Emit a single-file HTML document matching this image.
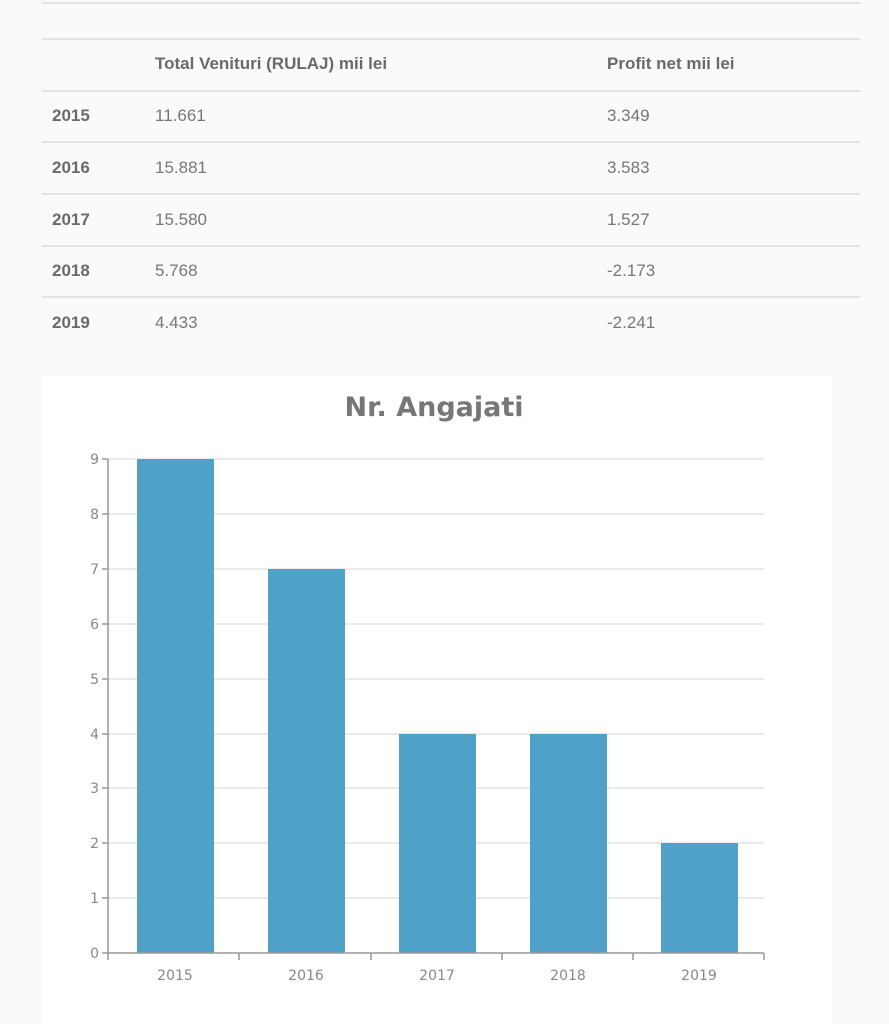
<!DOCTYPE html>
<html><head><style>
body{margin:0;width:889px;height:1024px;background:#fafafa;font-family:"Liberation Sans",sans-serif;position:relative;overflow:hidden}
.l{position:absolute;left:42px;width:818px;height:2px;background:#e3e3e3}
.t{position:absolute;font-size:17px;color:#777}
.b{font-weight:bold;color:#6a6a6a}
</style></head><body>
<div class="l" style="top:2px"></div>
<div class="l" style="top:38px"></div>
<div class="l" style="top:90px"></div>
<div class="l" style="top:141px"></div>
<div class="l" style="top:193px"></div>
<div class="l" style="top:245px"></div>
<div class="l" style="top:296px"></div>
<div class="t b" style="left:155px;top:54px">Total Venituri (RULAJ) mii lei</div>
<div class="t b" style="left:607px;top:54px">Profit net mii lei</div>
<div class="t b" style="left:52px;top:106px">2015</div><div class="t" style="left:155px;top:106px">11.661</div><div class="t" style="left:607px;top:106px">3.349</div>
<div class="t b" style="left:52px;top:158px">2016</div><div class="t" style="left:155px;top:158px">15.881</div><div class="t" style="left:607px;top:158px">3.583</div>
<div class="t b" style="left:52px;top:210px">2017</div><div class="t" style="left:155px;top:210px">15.580</div><div class="t" style="left:607px;top:210px">1.527</div>
<div class="t b" style="left:52px;top:261px">2018</div><div class="t" style="left:155px;top:261px">5.768</div><div class="t" style="left:607px;top:261px">-2.173</div>
<div class="t b" style="left:52px;top:313px">2019</div><div class="t" style="left:155px;top:313px">4.433</div><div class="t" style="left:607px;top:313px">-2.241</div>
<svg style="position:absolute;left:0;top:0" width="889" height="1024">
<rect x="42" y="376" width="791" height="648" fill="#fff"/>
<text x="434" y="416" text-anchor="middle" font-family="DejaVu Sans,sans-serif" font-weight="bold" font-size="27" fill="#777">Nr. Angajati</text>
<g stroke="#e3e3e3" stroke-width="1.5">
<line x1="108" x2="764" y1="459" y2="459"/><line x1="108" x2="764" y1="514" y2="514"/><line x1="108" x2="764" y1="569" y2="569"/><line x1="108" x2="764" y1="624" y2="624"/><line x1="108" x2="764" y1="679" y2="679"/><line x1="108" x2="764" y1="734" y2="734"/><line x1="108" x2="764" y1="788" y2="788"/><line x1="108" x2="764" y1="843" y2="843"/><line x1="108" x2="764" y1="898" y2="898"/>
</g>
<g fill="#4fa1c8">
<rect x="137" y="459" width="77" height="494"/>
<rect x="268" y="569" width="77" height="384"/>
<rect x="399" y="734" width="77" height="219"/>
<rect x="530" y="734" width="77" height="219"/>
<rect x="661" y="843" width="77" height="110"/>
</g>
<g stroke="#999" stroke-width="1.5">
<line x1="108" x2="108" y1="459" y2="953"/><line x1="108" x2="764" y1="953" y2="953"/>
<line x1="102" x2="108" y1="459" y2="459"/><line x1="102" x2="108" y1="514" y2="514"/><line x1="102" x2="108" y1="569" y2="569"/><line x1="102" x2="108" y1="624" y2="624"/><line x1="102" x2="108" y1="679" y2="679"/><line x1="102" x2="108" y1="734" y2="734"/><line x1="102" x2="108" y1="788" y2="788"/><line x1="102" x2="108" y1="843" y2="843"/><line x1="102" x2="108" y1="898" y2="898"/><line x1="102" x2="108" y1="953" y2="953"/>
<line x1="108" x2="108" y1="953" y2="960"/><line x1="239" x2="239" y1="953" y2="960"/><line x1="371" x2="371" y1="953" y2="960"/><line x1="502" x2="502" y1="953" y2="960"/><line x1="633" x2="633" y1="953" y2="960"/><line x1="764" x2="764" y1="953" y2="960"/>
</g>
<g font-family="DejaVu Sans,sans-serif" font-size="14" fill="#888" text-anchor="end">
<text x="99" y="464">9</text><text x="99" y="519">8</text><text x="99" y="574">7</text><text x="99" y="629">6</text><text x="99" y="684">5</text><text x="99" y="739">4</text><text x="99" y="793">3</text><text x="99" y="848">2</text><text x="99" y="903">1</text><text x="99" y="958">0</text>
</g>
<g font-family="DejaVu Sans,sans-serif" font-size="14" fill="#888" text-anchor="middle">
<text x="175" y="980">2015</text><text x="306" y="980">2016</text><text x="437" y="980">2017</text><text x="568" y="980">2018</text><text x="699" y="980">2019</text>
</g>
</svg>
</body></html>
